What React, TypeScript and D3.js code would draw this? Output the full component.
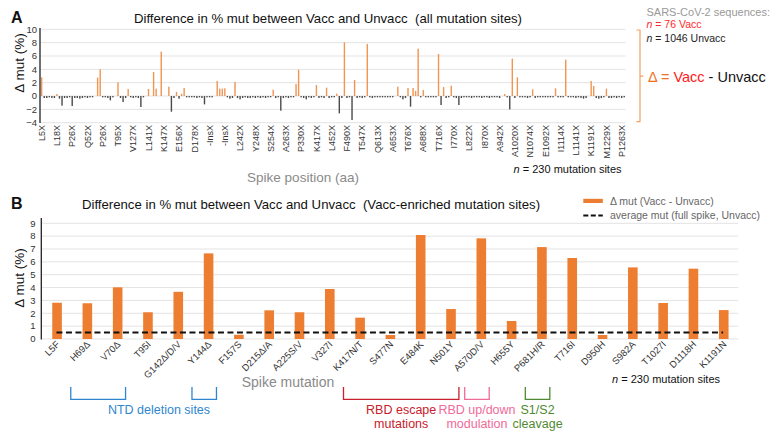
import React from "react";
import * as d3 from "d3";

// ---------- Panel A data (230 mutation sites, Δ mut %) ----------
const deltaAllSites: number[] = [
  2.8, -0.3, -0.3, -0.2, -0.3, -0.3, 0.3, -0.4, -1.45, -0.3,
  -0.3, -0.2, -1.5, -0.3, -0.3, -0.4, -0.3, -0.2, -0.3, -0.2,
  -0.2, 0, 2.75, 4.0, -0.2, -0.2, -0.3, -0.65, -0.2, 0,
  2.05, -0.3, -0.9, -0.3, 1.05, -0.2, -0.3, -0.2, -0.3, -1.65,
  -0.2, 0, 1.05, 0, 3.6, 1.1, 0, 6.65, 0, 0,
  1.4, -2.35, -0.3, 0.6, -0.4, 0.35, 1.2, -0.2, -0.2, -0.2,
  -0.2, -0.3, -0.2, -0.3, -1.25, -0.2, -0.2, -0.2, 0, 2.25,
  1.1, 1.1, 1.15, -0.2, -0.4, -0.3, 2.1, -0.3, -0.5, -0.3,
  -0.2, -0.3, -0.3, -0.2, -0.3, -0.2, -0.3, -0.2, -0.3, -0.2,
  -0.2, 0.95, -0.3, -0.2, -2.2, -0.3, -0.2, -0.3, -0.2, -0.2,
  1.8, 3.95, -0.2, -0.3, -0.5, -0.2, -0.3, -0.2, 1.65, -0.3,
  -0.2, -0.3, 1.25, -0.3, -0.2, -0.2, 0.35, -2.6, -0.3, 8.05,
  -0.3, -0.2, -3.6, 2.4, -0.3, -0.2, -0.3, -0.2, 7.8, -0.2,
  -0.3, -0.2, -0.2, -0.2, -0.2, -0.2, -0.2, -0.2, -0.2, 0,
  1.4, -0.2, -0.5, -0.3, 1.2, -1.6, 1.2, 0.75, 7.1, -0.2,
  0.9, -0.2, -0.2, -0.2, -0.2, -0.2, 6.3, -1.35, 1.35, -0.3,
  -0.2, 1.55, -0.2, -0.3, -1.35, -0.3, -0.2, -0.2, -0.2, -0.3,
  -0.2, -0.2, -0.2, -0.3, -0.2, -0.2, -0.3, -0.2, -0.2, -0.2,
  -0.3, 0, 0.3, -0.2, -2.0, 5.6, -0.3, 2.8, -0.2, -0.2,
  -0.2, -0.3, -0.2, 1.0, -0.3, -0.2, -0.2, -0.2, -0.2, -0.2,
  -0.2, -0.2, 1.15, -0.2, -0.2, -0.2, 5.45, -0.2, -0.2, -0.2,
  -0.3, -0.2, -0.3, -0.4, -0.3, 0, 2.25, 1.5, -0.3, -0.4,
  -0.3, -0.2, 1.1, -0.3, -0.3, -0.2, -0.3, -0.2, -0.3, -0.2,
];

// every 6th site is labelled
const siteTickLabels: string[] = [
  "L5X", "L18X", "P26X", "Q52X", "P26X", "T95X", "V127X", "L141X", "K147X", "E156X",
  "D178X", "-InsX", "-InsX", "L242X", "Y248X", "S254X", "A263X", "P330X", "K417X", "L452X",
  "F490X", "T547X", "Q613X", "A653X", "T676X", "A688X", "T716X", "I770X", "L822X", "I870X",
  "A942X", "A1020X", "N1074X", "E1092X", "I1114X", "L1141X", "K1191X", "M1229X", "P1263X",
];
const siteTickStep = 6;
const yTicksA: number[] = [-4, -2, 0, 2, 4, 6, 8, 10];

// ---------- Panel B data ----------
const mutations: string[] = [
  "L5F", "H69Δ", "V70Δ", "T95I", "G142Δ/D/V", "Y144Δ", "F157S", "D215Δ/A", "A225S/V",
  "V327I", "K417N/T", "S477N", "E484K", "N501Y", "A570D/V", "H655Y", "P681H/R", "T716I",
  "D950H", "S982A", "T1027I", "D1118H", "K1191N",
];
const deltaEnriched: number[] = [
  2.82, 2.78, 4.02, 2.08, 3.67, 6.66, 0.33, 2.23, 2.08, 3.89, 1.66, 0.31, 8.09, 2.33,
  7.83, 1.4, 7.15, 6.3, 0.31, 5.57, 2.8, 5.47, 2.25,
];
const averageMutUnvacc = 0.5;
const yTicksB: number[] = [0, 1, 2, 3, 4, 5, 6, 7, 8, 9];

const brackets = [
  { from: "H69Δ", to: "V70Δ", color: "#2f86cf", lines: [] as string[] },
  { from: "Y144Δ", to: "Y144Δ", color: "#2f86cf", lines: [] as string[] },
  { from: "K417N/T", to: "N501Y", color: "#c8202c", lines: ["RBD escape", "mutations"] },
  { from: "A570D/V", to: "A570D/V", color: "#f06a9a", lines: ["RBD up/down", "modulation"] },
  { from: "P681H/R", to: "P681H/R", color: "#4f8a32", lines: ["S1/S2", "cleavage"] },
];

const FONT = "'Liberation Sans', Arial, Helvetica, sans-serif";
const ORANGE_A = "#f09552";
const ORANGE_B = "#ed7d31";

export default function App() {
  // ---- Panel A scales ----
  const xA = d3
    .scaleBand<number>()
    .domain(d3.range(deltaAllSites.length))
    .range([40.4, 625.5])
    .padding(0);
  const yA = d3.scaleLinear().domain([-4, 10]).range([122.7, 29.3]);
  const barWA = 1.4;

  // ---- Panel B scales ----
  const xB = d3.scaleBand<string>().domain(mutations).range([41.3, 738.3]).padding(0);
  const yB = d3.scaleLinear().domain([0, 9]).range([339, 223.3]);
  const barWB = 9.6;
  const cB = (m: string) => (xB(m) as number) + xB.bandwidth() / 2;

  return (
    <svg
      width={775}
      height={435}
      style={{ position: "absolute", left: 0, top: 0, background: "#fff" }}
      fontFamily={FONT}
    >
      <rect width={775} height={435} fill="#fff" />

      {/* ================= Panel A ================= */}
      <text x={11} y={23} fontSize={16} fontWeight="bold" fill="#111">A</text>
      <text x={328} y={22.5} fontSize={13.2} textAnchor="middle" fill="#111">
        Difference in % mut between Vacc and Unvacc{"\u00a0\u00a0"}(all mutation sites)
      </text>

      {/* gridlines */}
      {yTicksA.map((t) => (
        <line key={"ga" + t} x1={40.4} x2={625.5} y1={yA(t)} y2={yA(t)} stroke="#e3e3e3" strokeWidth={1} />
      ))}
      {/* y tick labels */}
      {yTicksA.map((t) => (
        <text key={"ta" + t} x={37} y={yA(t) + 3.3} fontSize={9.5} textAnchor="end" fill="#333">
          {t < 0 ? "\u2212" + Math.abs(t) : t}
        </text>
      ))}
      <text
        transform={`translate(24,63) rotate(-90)`}
        fontSize={13.5}
        textAnchor="middle"
        fill="#111"
      >
        Δ mut (%)
      </text>

      {/* bars */}
      {deltaAllSites.map((v, i) => {
        const cx = (xA(i) as number) + xA.bandwidth() / 2;
        const y0 = yA(0);
        const y1 = yA(v);
        return (
          <rect
            key={"ba" + i}
            x={cx - barWA / 2}
            y={Math.min(y0, y1)}
            width={barWA}
            height={Math.max(Math.abs(y1 - y0), v === 0 ? 0 : 0.8)}
            fill={v > 0 ? ORANGE_A : "#4a4a4a"}
          />
        );
      })}
      {/* axis line */}
      <line x1={40} x2={40} y1={28} y2={123} stroke="#222" strokeWidth={1.3} />

      {/* x tick labels */}
      {siteTickLabels.map((lab, k) => {
        const i = k * siteTickStep;
        const cx = (xA(i) as number) + xA.bandwidth() / 2;
        return (
          <text
            key={"xa" + k}
            transform={`translate(${cx + 3.2},125) rotate(-90)`}
            fontSize={9}
            textAnchor="end"
            fill="#333"
          >
            {lab}
          </text>
        );
      })}
      <text x={303} y={182} fontSize={13.5} textAnchor="middle" fill="#8a8a8a">
        Spike position (aa)
      </text>
      <text x={621.5} y={173} fontSize={11} textAnchor="end" fill="#111">
        <tspan fontStyle="italic">n</tspan> = 230 mutation sites
      </text>

      {/* right side legend */}
      <text x={646.5} y={15.5} fontSize={11} fill="#999">SARS-CoV-2 sequences:</text>
      <text x={646.5} y={28} fontSize={10.5} fill="#ff2a2a">
        <tspan fontStyle="italic">n</tspan> = 76 Vacc
      </text>
      <text x={646.5} y={41.5} fontSize={10.5} fill="#222">
        <tspan fontStyle="italic">n</tspan> = 1046 Unvacc
      </text>
      <path
        d="M636.5,30 H640 V121.7 H636.5 M640,76.2 H643.3"
        fill="none"
        stroke="#f5a060"
        strokeWidth={1.2}
      />
      <text x={648} y={82} fontSize={14.5}>
        <tspan fill="#f07020">Δ = </tspan>
        <tspan fill="#ff2020">Vacc</tspan>
        <tspan fill="#111"> - Unvacc</tspan>
      </text>

      {/* ================= Panel B ================= */}
      <text x={11} y={209} fontSize={16} fontWeight="bold" fill="#111">B</text>
      <text x={311} y={209} fontSize={13.2} textAnchor="middle" fill="#111">
        Difference in % mut between Vacc and Unvacc{"\u00a0\u00a0"}(Vacc-enriched mutation sites)
      </text>

      {/* legend */}
      <rect x={583.3} y={198.8} width={19.5} height={4.2} fill={ORANGE_B} />
      <text x={610} y={204.5} fontSize={10.5} fill="#666">Δ mut (Vacc - Unvacc)</text>
      <line x1={583.3} x2={602.8} y1={215.5} y2={215.5} stroke="#111" strokeWidth={2} strokeDasharray="5,2.5" />
      <text x={610} y={219} fontSize={10.5} fill="#666">average mut (full spike, Unvacc)</text>

      {yTicksB.map((t) => (
        <line key={"gb" + t} x1={41.3} x2={738.3} y1={yB(t)} y2={yB(t)} stroke="#e3e3e3" strokeWidth={1} />
      ))}
      {yTicksB.map((t) => (
        <text key={"tb" + t} x={35.5} y={yB(t) + 3.3} fontSize={9.5} textAnchor="end" fill="#333">
          {t}
        </text>
      ))}
      <text transform={`translate(24,278) rotate(-90)`} fontSize={13.5} textAnchor="middle" fill="#111">
        Δ mut (%)
      </text>

      {mutations.map((m, i) => (
        <rect
          key={"bb" + m}
          x={cB(m) - barWB / 2 + 0.6}
          y={yB(deltaEnriched[i])}
          width={barWB}
          height={yB(0) - yB(deltaEnriched[i])}
          fill={ORANGE_B}
        />
      ))}
      <line x1={41.3} x2={41.3} y1={218} y2={339.5} stroke="#222" strokeWidth={1.3} />

      {/* average dashed line */}
      <line
        x1={cB(mutations[0])}
        x2={cB(mutations[mutations.length - 1])}
        y1={yB(averageMutUnvacc)}
        y2={yB(averageMutUnvacc)}
        stroke="#111"
        strokeWidth={2}
        strokeDasharray="6,3.5"
      />

      {mutations.map((m) => (
        <text
          key={"xb" + m}
          transform={`translate(${cB(m) + 4},345) rotate(-45)`}
          fontSize={9.5}
          textAnchor="end"
          fill="#333"
        >
          {m}
        </text>
      ))}

      <text x={288} y={387} fontSize={14} textAnchor="middle" fill="#8a8a8a">Spike mutation</text>
      <text x={720} y={383} fontSize={11} textAnchor="end" fill="#111">
        <tspan fontStyle="italic">n</tspan> = 230 mutation sites
      </text>

      {/* brackets */}
      {brackets.map((b, k) => {
        const x1 = cB(b.from) - 16;
        const x2 = cB(b.to) + 8.5;
        const cx = (x1 + x2) / 2;
        return (
          <g key={"br" + k}>
            <path d={`M${x1},387 V399.3 H${x2} V387`} fill="none" stroke={b.color} strokeWidth={1.3} />
            {b.lines.map((ln, j) => (
              <text key={j} x={cx} y={413.5 + j * 14} fontSize={12.5} textAnchor="middle" fill={b.color}>
                {ln}
              </text>
            ))}
          </g>
        );
      })}
      <text x={159} y={413.5} fontSize={12.5} textAnchor="middle" fill="#2f86cf">NTD deletion sites</text>
    </svg>
  );
}
